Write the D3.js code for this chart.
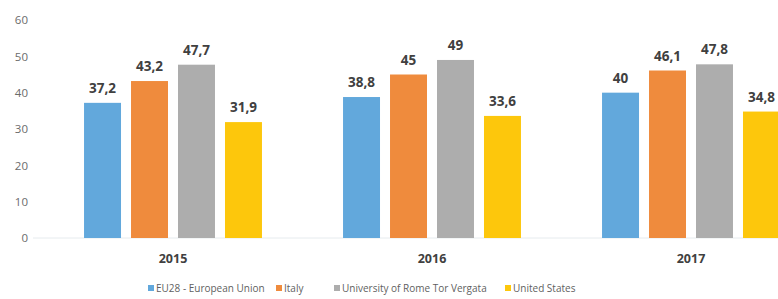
<!DOCTYPE html>
<html>
<head>
<meta charset="utf-8">
<script src="https://cdn.jsdelivr.net/npm/d3@7"></script>
<style>
  body { margin: 0; background: #fff; }
  svg { display: block; font-family: "Open Sans", sans-serif; }
</style>
</head>
<body>
<svg id="chart" width="778" height="299"></svg>
<script>
const years = ['2015', '2016', '2017'];
const seriesNames = ['EU28 - European Union', 'Italy', 'University of Rome Tor Vergata', 'United States'];
const seriesColors = ['#62a8dc', '#ef8b3d', '#adadad', '#fdc70c'];
const eu28 = [37.2, 38.8, 40];
const italy = [43.2, 45, 46.1];
const torVergata = [47.7, 49, 47.8];
const unitedStates = [31.9, 33.6, 34.8];
const yTicks = [0, 10, 20, 30, 40, 50, 60];

const seriesValues = [eu28, italy, torVergata, unitedStates];
const fmt = v => String(v).replace('.', ',');

const svg = d3.select('#chart');

const x0 = d3.scaleBand()
    .domain(years)
    .range([43.5, 820.5])
    .paddingInner(0.313)
    .paddingOuter(0.1565);

const x1 = d3.scaleBand()
    .domain(seriesNames)
    .range([0, x0.bandwidth()])
    .paddingInner(0.213)
    .paddingOuter(0);

const y = d3.scaleLinear().domain([0, 60]).range([238, 20]);

// y axis labels
const yAxis = svg.append('g')
    .attr('transform', 'translate(28,0)')
    .call(d3.axisLeft(y).tickValues(yTicks).tickSize(0).tickPadding(0));
yAxis.select('.domain').remove();
yAxis.selectAll('text')
    .attr('fill', '#6b6b6b')
    .attr('font-size', 11.5)
    .attr('font-family', '"Open Sans", sans-serif');

// baseline
svg.append('line')
    .attr('x1', 33).attr('x2', 778)
    .attr('y1', y(0)).attr('y2', y(0))
    .attr('stroke', '#e6ebee')
    .attr('stroke-width', 1);

// bars
const groups = svg.selectAll('g.year')
    .data(years)
    .enter().append('g')
    .attr('class', 'year')
    .attr('transform', d => `translate(${x0(d)},0)`);

groups.each(function(year, yi) {
    const g = d3.select(this);
    const rows = seriesNames.map((name, si) => ({ name, color: seriesColors[si], value: seriesValues[si][yi] }));

    g.selectAll('rect')
        .data(rows)
        .enter().append('rect')
        .attr('x', d => x1(d.name))
        .attr('y', d => y(d.value))
        .attr('width', x1.bandwidth())
        .attr('height', d => y(0) - y(d.value))
        .attr('fill', d => d.color);

    g.selectAll('text.val')
        .data(rows)
        .enter().append('text')
        .attr('class', 'val')
        .attr('x', d => x1(d.name) + x1.bandwidth() / 2)
        .attr('y', d => y(d.value) - 10)
        .attr('text-anchor', 'middle')
        .attr('font-size', 13.5)
        .attr('font-weight', 700)
        .attr('fill', '#404040')
        .text(d => fmt(d.value));
});

// x axis labels
svg.selectAll('text.yr')
    .data(years)
    .enter().append('text')
    .attr('class', 'yr')
    .attr('x', d => x0(d) + x0.bandwidth() / 2)
    .attr('y', 263)
    .attr('text-anchor', 'middle')
    .attr('font-size', 12.5)
    .attr('font-weight', 700)
    .attr('fill', '#404040')
    .text(d => d);

// legend
const legendX = [148, 276, 334, 505];
const legend = svg.selectAll('g.legend')
    .data(seriesNames)
    .enter().append('g')
    .attr('class', 'legend')
    .attr('transform', (d, i) => `translate(${legendX[i]},0)`);

legend.append('rect')
    .attr('x', 0).attr('y', 285)
    .attr('width', 6).attr('height', 6)
    .attr('fill', (d, i) => seriesColors[i]);

legend.append('text')
    .attr('x', 8)
    .attr('y', 292)
    .attr('font-size', 10)
    .attr('fill', '#5f5f5f')
    .text(d => d);
</script>
</body>
</html>
